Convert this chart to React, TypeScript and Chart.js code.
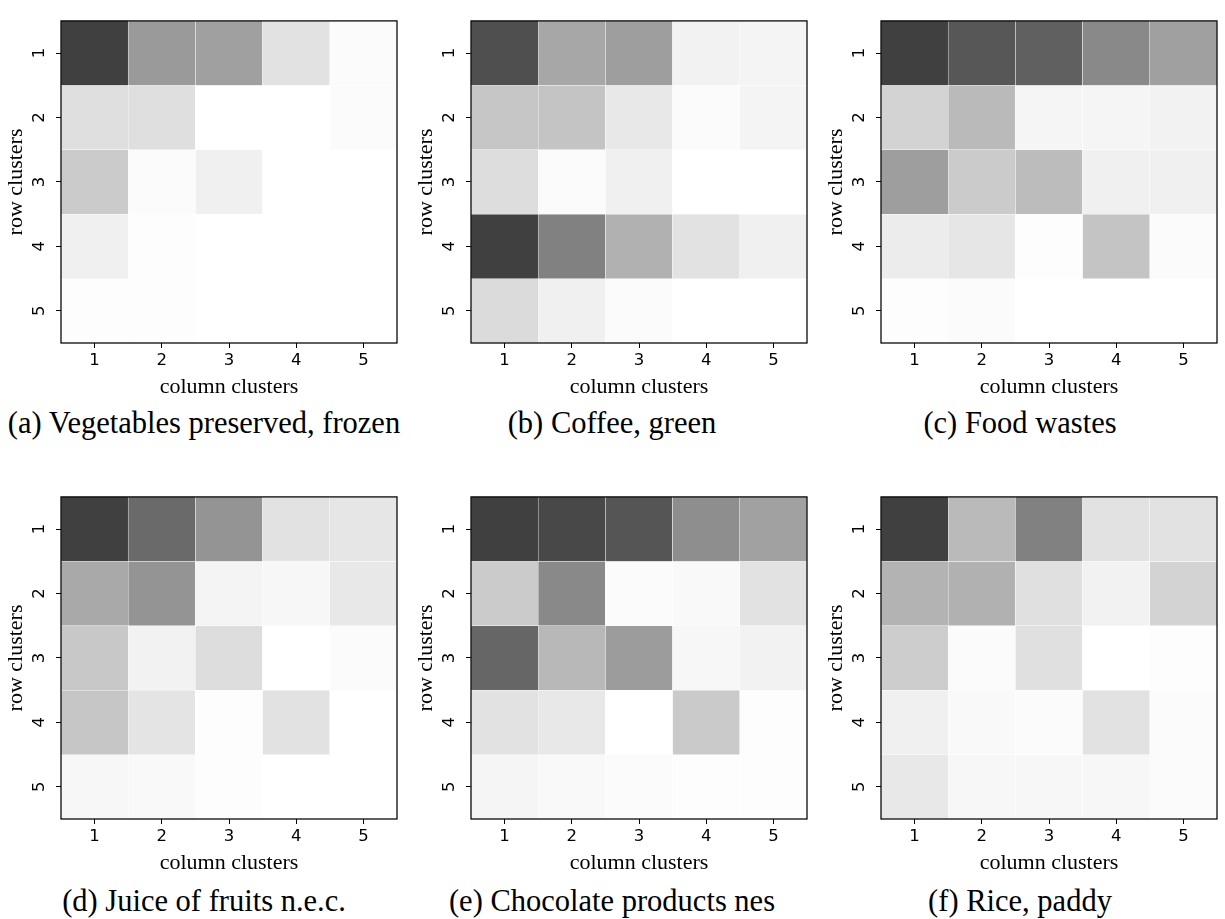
import React, { useEffect, useRef } from 'react';
import { Chart, registerables } from 'chart.js';

Chart.register(...registerables);

// Cluster labels
const rowClusters = ['1', '2', '3', '4', '5'];
const columnClusters = ['1', '2', '3', '4', '5'];

// Block intensities (0 = white, 1 = darkest), rows = row clusters, cols = column clusters
const vegetablesFrozen = [
  [1.0, 0.53, 0.5, 0.15, 0.02],
  [0.17, 0.17, 0.0, 0.0, 0.02],
  [0.27, 0.02, 0.08, 0.0, 0.0],
  [0.08, 0.01, 0.0, 0.0, 0.0],
  [0.01, 0.01, 0.0, 0.0, 0.0],
];
const coffeeGreen = [
  [0.92, 0.46, 0.51, 0.07, 0.06],
  [0.3, 0.31, 0.12, 0.02, 0.06],
  [0.18, 0.02, 0.08, 0.0, 0.0],
  [1.0, 0.66, 0.41, 0.15, 0.08],
  [0.19, 0.08, 0.02, 0.0, 0.0],
];
const foodWastes = [
  [1.0, 0.88, 0.83, 0.62, 0.5],
  [0.23, 0.36, 0.05, 0.05, 0.07],
  [0.51, 0.27, 0.35, 0.08, 0.08],
  [0.1, 0.13, 0.01, 0.31, 0.02],
  [0.01, 0.02, 0.0, 0.0, 0.0],
];
const juiceOfFruits = [
  [1.0, 0.78, 0.56, 0.15, 0.13],
  [0.45, 0.56, 0.06, 0.04, 0.12],
  [0.29, 0.07, 0.18, 0.0, 0.02],
  [0.3, 0.14, 0.01, 0.15, 0.0],
  [0.04, 0.03, 0.01, 0.0, 0.0],
];
const chocolateProducts = [
  [1.0, 0.96, 0.89, 0.59, 0.49],
  [0.27, 0.62, 0.02, 0.03, 0.15],
  [0.8, 0.37, 0.52, 0.04, 0.07],
  [0.15, 0.12, 0.0, 0.28, 0.01],
  [0.05, 0.03, 0.02, 0.01, 0.01],
];
const ricePaddy = [
  [1.0, 0.36, 0.66, 0.15, 0.15],
  [0.4, 0.41, 0.16, 0.07, 0.23],
  [0.26, 0.02, 0.16, 0.0, 0.01],
  [0.08, 0.03, 0.02, 0.15, 0.02],
  [0.12, 0.04, 0.04, 0.04, 0.02],
];

const captions = [
  '(a) Vegetables preserved, frozen',
  '(b) Coffee, green',
  '(c) Food wastes',
  '(d) Juice of fruits n.e.c.',
  '(e) Chocolate products nes',
  '(f) Rice, paddy',
];
const matrices = [vegetablesFrozen, coffeeGreen, foodWastes, juiceOfFruits, chocolateProducts, ricePaddy];

const PLOT = 336;
const Y_AXIS_W = 61;
const X_AXIS_H = 60;
const PAD_TOP = 7;
const PAD_RIGHT = 5;
const CANVAS_W = Y_AXIS_W + PLOT + PAD_RIGHT;
const CANVAS_H = PAD_TOP + PLOT + X_AXIS_H;
const colLefts = [0, 410, 820];
const rowTops = [0, 476];
const captionCenters = [204, 612, 1020];
const captionTops = [408, 886];

const grey = (v: number) => {
  const g = Math.round(255 - 191 * v);
  return `rgb(${g},${g},${g})`;
};

const framePlugin = {
  id: 'frame',
  afterDatasetsDraw(chart: any) {
    const { ctx, chartArea: a } = chart;
    ctx.save();
    ctx.strokeStyle = '#000';
    ctx.lineWidth = 1.25;
    ctx.strokeRect(a.left, a.top, a.right - a.left, a.bottom - a.top);
    ctx.restore();
  },
};

function Heatmap({ matrix }: { matrix: number[][] }) {
  const ref = useRef<HTMLCanvasElement | null>(null);
  useEffect(() => {
    if (!ref.current) return;
    const datasets = rowClusters.map((r, ri) => {
      const rv = Number(r);
      return {
        data: columnClusters.map(() => [rv - 0.5, rv + 0.5]),
        backgroundColor: matrix[ri].map(grey),
        borderColor: '#ffffff',
        borderWidth: 0.5,
        borderSkipped: false,
        grouped: false,
        barPercentage: 1,
        categoryPercentage: 1,
      };
    });
    const tickFont = { family: 'DejaVu Sans', size: 16.5 };
    const titleFont = { family: 'Liberation Serif', size: 22 };
    const chart = new Chart(ref.current, {
      type: 'bar',
      data: { labels: columnClusters, datasets: datasets as any },
      plugins: [framePlugin],
      options: {
        animation: false,
        responsive: false,
        layout: { padding: { top: PAD_TOP, right: PAD_RIGHT, left: 0, bottom: 0 } },
        plugins: { legend: { display: false }, tooltip: { enabled: false } },
        scales: {
          x: {
            type: 'category',
            offset: true,
            grid: {
              display: true,
              offset: false,
              drawOnChartArea: false,
              drawTicks: true,
              tickLength: 5,
              tickColor: '#000',
              tickWidth: 1,
            },
            border: { display: false },
            ticks: { color: '#000', font: tickFont, padding: 3, maxRotation: 0, minRotation: 0 },
            title: {
              display: true,
              text: 'column clusters',
              color: '#000',
              font: titleFont,
              padding: { top: 0, bottom: 3 },
            },
            afterFit: (s: any) => {
              s.height = X_AXIS_H;
            },
          },
          y: {
            type: 'linear',
            min: 0.5,
            max: 5.5,
            reverse: true,
            grid: {
              display: true,
              drawOnChartArea: false,
              drawTicks: true,
              tickLength: 5,
              tickColor: '#000',
              tickWidth: 1,
            },
            border: { display: false },
            afterBuildTicks: (s: any) => {
              s.ticks = rowClusters.map((r) => ({ value: Number(r) }));
            },
            ticks: {
              color: '#000',
              font: tickFont,
              padding: 11,
              minRotation: 90,
              maxRotation: 90,
              crossAlign: 'center',
              callback: (v: any) => String(v),
            },
            title: {
              display: true,
              text: 'row clusters',
              color: '#000',
              font: titleFont,
              padding: { top: 3, bottom: 0 },
            },
            afterFit: (s: any) => {
              s.width = Y_AXIS_W;
            },
          },
        },
      } as any,
    });
    return () => chart.destroy();
  }, [matrix]);
  return <canvas ref={ref} width={CANVAS_W} height={CANVAS_H} style={{ display: 'block', width: CANVAS_W, height: CANVAS_H }} />;
}

export default function App() {
  return (
    <div
      style={{
        position: 'absolute',
        left: 0,
        top: 0,
        width: 1225,
        height: 919,
        background: '#fff',
        overflow: 'hidden',
      }}
    >
      {matrices.map((m, i) => {
        const c = i % 3;
        const r = Math.floor(i / 3);
        return (
          <React.Fragment key={i}>
            <div style={{ position: 'absolute', left: colLefts[c], top: rowTops[r] }}>
              <Heatmap matrix={m} />
            </div>
            <div
              style={{
                position: 'absolute',
                left: captionCenters[c] - 250,
                width: 500,
                top: captionTops[r],
                textAlign: 'center',
                fontFamily: 'Liberation Serif',
                fontSize: 30.5,
                lineHeight: '30px',
                color: '#000',
                whiteSpace: 'nowrap',
              }}
            >
              {captions[i]}
            </div>
          </React.Fragment>
        );
      })}
    </div>
  );
}
